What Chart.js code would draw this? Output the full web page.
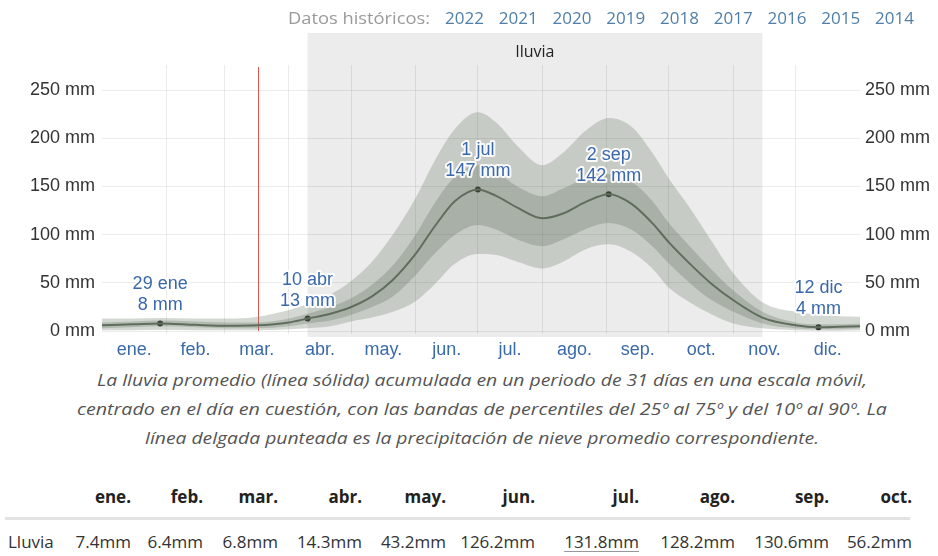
<!DOCTYPE html>
<html lang="es">
<head>
<meta charset="utf-8">
<title>Lluvia</title>
<script src="https://cdn.jsdelivr.net/npm/chart.js@4.4.1/dist/chart.umd.min.js"></script>
<style>
  html, body { margin: 0; padding: 0; background: #fff; }
  body { width: 938px; height: 556px; position: relative; overflow: hidden; font-family: "Open Sans", sans-serif; }
  #chart { position: absolute; left: 0; top: 0; }
  .t { position: absolute; white-space: nowrap; line-height: 1; }
  .hist { color: #9a9a9a; font-size: 17px; top: 9px; }
  .year { color: #4f7fa9; font-size: 17px; top: 9px; }
  .cap { color: #555; font-size: 17px; font-style: italic; }
  .th { font-weight: bold; font-size: 17px; color: #222; top: 488px; }
  .td { font-size: 17px; color: #333; top: 533px; }
  .sep { position: absolute; left: 5px; top: 517px; width: 905px; height: 3px; background: #e2e2e2; }
</style>
</head>
<body>
<canvas id="chart" width="938" height="365"></canvas>
<div id="texts"></div>

<script>
// months on the x axis (day of year where each month starts)
const monthLabels = ['ene.', 'feb.', 'mar.', 'abr.', 'may.', 'jun.', 'jul.', 'ago.', 'sep.', 'oct.', 'nov.', 'dic.'];
const monthStarts = [0, 31, 59, 90, 120, 151, 181, 212, 243, 273, 304, 334, 365];

// 31-day running rainfall (mm), read at these days of the year
const days     = [0, 15, 28, 45, 60, 75, 90, 99, 110, 120, 130, 140, 151, 160, 170, 181, 190, 200, 212, 222, 233, 244, 255, 265, 273, 283, 293, 304, 318, 334, 345, 355, 365];
const rainMean = [6, 7, 8, 6.5, 5.5, 6, 9, 13, 18, 25, 36, 53, 80, 108, 135, 147, 140, 128, 117, 122, 134, 142, 132, 112, 92, 70, 50, 32, 14, 6, 4, 4.5, 5];
const rainP10  = [1, 1, 1.5, 1, 1, 1, 2, 3, 5, 10, 14, 20, 31, 48, 70, 80, 79, 72, 65, 72, 85, 90, 82, 65, 45, 30, 18, 8, 3, 1, 0.5, 0.5, 1];
const rainP25  = [3, 4, 5, 4, 3, 3, 5, 8, 11, 17, 25, 36, 58, 80, 100, 110, 105, 95, 88, 95, 106, 112, 105, 88, 70, 50, 33, 20, 8, 3, 2, 2, 3];
const rainP75  = [9, 10, 11, 10, 9, 9, 13, 18, 25, 34, 48, 68, 100, 132, 160, 172, 165, 150, 140, 148, 158, 163, 155, 135, 112, 88, 65, 42, 20, 9, 7, 7, 8];
const rainP90  = [13, 13, 13.5, 13, 13, 15, 22, 28, 38, 52, 72, 100, 138, 176, 210, 227, 216, 192, 172, 185, 208, 221, 212, 185, 158, 128, 95, 60, 30, 20, 17, 15.5, 15];

// labelled points on the mean curve
const markDays   = [28, 99, 181, 244, 345];
const markNames  = ['29 ene', '10 abr', '1 jul', '2 sep', '12 dic'];
const markValues = [8, 13, 147, 142, 4];

// rainy season and current day
const seasonName = 'lluvia';
const seasonStart = 99;
const seasonEnd = 318;
const todayDay = 75;

const yTicks = [0, 50, 100, 150, 200, 250];

// header and monthly table
const histYears = ['2022', '2021', '2020', '2019', '2018', '2017', '2016', '2015', '2014'];
const tableMonths = ['ene.', 'feb.', 'mar.', 'abr.', 'may.', 'jun.', 'jul.', 'ago.', 'sep.', 'oct.'];
const tableRain = [7.4, 6.4, 6.8, 14.3, 43.2, 126.2, 131.8, 128.2, 130.6, 56.2];
const tableHighlight = 6;
const captionLines = [
  'La lluvia promedio (línea sólida) acumulada en un periodo de 31 días en una escala móvil,',
  'centrado en el día en cuestión, con las bandas de percentiles del 25º al 75º y del 10º al 90º. La',
  'línea delgada punteada es la precipitación de nieve promedio correspondiente.'
];

const labelFont = '"Liberation Sans", Arial, sans-serif';
const pts = arr => days.map((d, i) => ({ x: d, y: arr[i] }));

// grey block for the rainy season, its title and the red "today" line
const seasonPlugin = {
  id: 'season',
  beforeDraw(chart) {
    const { ctx, chartArea, scales: { x } } = chart;
    const x0 = x.getPixelForValue(seasonStart);
    const x1 = x.getPixelForValue(seasonEnd);
    ctx.save();
    ctx.fillStyle = '#ececec';
    ctx.fillRect(x0, 33, x1 - x0, chartArea.bottom + 3 - 33);
    ctx.fillStyle = '#222';
    ctx.font = '16px "Open Sans", sans-serif';
    ctx.textAlign = 'center';
    ctx.textBaseline = 'middle';
    ctx.fillText(seasonName, (x0 + x1) / 2, 52);
    ctx.restore();
  },
  beforeDatasetsDraw(chart) {
    const { ctx, chartArea, scales: { x } } = chart;
    const px = Math.round(x.getPixelForValue(todayDay)) + 0.5;
    ctx.save();
    ctx.strokeStyle = '#e0574f';
    ctx.lineWidth = 1;
    ctx.beginPath();
    ctx.moveTo(px, chartArea.top + 2);
    ctx.lineTo(px, chartArea.bottom - 3);
    ctx.stroke();
    ctx.restore();
  }
};

// two-line date / value labels above the marked points
const markPlugin = {
  id: 'markLabels',
  afterDatasetsDraw(chart) {
    const { ctx, scales: { x, y } } = chart;
    ctx.save();
    ctx.font = '18px ' + labelFont;
    ctx.textAlign = 'center';
    ctx.textBaseline = 'middle';
    ctx.lineJoin = 'round';
    markDays.forEach((d, i) => {
      const px = x.getPixelForValue(d);
      const py = y.getPixelForValue(markValues[i]);
      const lines = [markNames[i], markValues[i] + ' mm'];
      lines.forEach((s, j) => {
        const ty = py - 18 - (1 - j) * 21;
        ctx.strokeStyle = 'rgba(255,255,255,0.9)';
        ctx.lineWidth = 4;
        ctx.strokeText(s, px, ty);
        ctx.fillStyle = '#3a68aa';
        ctx.fillText(s, px, ty);
      });
    });
    ctx.restore();
  }
};

const band = { pointRadius: 0, borderWidth: 0, cubicInterpolationMode: 'monotone' };
const yTickOpts = pad => ({
  padding: pad, color: '#333', font: { size: 18, family: labelFont },
  callback: v => v + ' mm'
});

new Chart(document.getElementById('chart'), {
  type: 'line',
  data: {
    datasets: [
      { ...band, data: pts(rainP90), fill: 1, backgroundColor: 'rgba(110,125,105,0.30)' },
      { ...band, data: pts(rainP10), fill: false },
      { ...band, data: pts(rainP75), fill: 3, backgroundColor: 'rgba(90,100,85,0.28)' },
      { ...band, data: pts(rainP25), fill: false },
      {
        data: pts(rainMean), borderColor: '#5c6759', borderWidth: 2, pointRadius: 0,
        cubicInterpolationMode: 'monotone', fill: false
      },
      {
        data: markDays.map((d, i) => ({ x: d, y: markValues[i] })), showLine: false,
        pointRadius: 3, pointBackgroundColor: '#111', pointBorderWidth: 0
      }
    ]
  },
  options: {
    responsive: false,
    animation: false,
    layout: { padding: { top: 65, left: 0, right: 0, bottom: 0 } },
    plugins: { legend: { display: false }, tooltip: { enabled: false } },
    scales: {
      x: {
        type: 'linear', position: 'bottom', min: 0, max: 365,
        afterBuildTicks: s => { s.ticks = monthLabels.map((m, i) => ({ value: (monthStarts[i] + monthStarts[i + 1]) / 2 })); },
        grid: { display: false, drawTicks: false },
        border: { display: false },
        ticks: {
          padding: 5, color: '#3b6aa8', font: { size: 18, family: labelFont },
          maxRotation: 0, autoSkip: false, callback: (v, i) => monthLabels[i]
        },
        afterFit: s => { s.height = 31; }
      },
      xg: {
        type: 'linear', position: 'bottom', min: 0, max: 365,
        afterBuildTicks: s => { s.ticks = monthStarts.slice(1, -1).map(v => ({ value: v })); },
        grid: { color: 'rgba(0,0,0,0.08)', drawTicks: false },
        border: { display: false },
        ticks: { display: false },
        afterFit: s => { s.height = 0; }
      },
      y: {
        position: 'left', min: -3, max: 276,
        afterBuildTicks: s => { s.ticks = yTicks.map(v => ({ value: v })); },
        grid: { color: 'rgba(0,0,0,0.08)', drawTicks: false },
        border: { display: false },
        ticks: yTickOpts(7),
        afterFit: s => { s.width = 102; }
      },
      y2: {
        position: 'right', min: -3, max: 276,
        afterBuildTicks: s => { s.ticks = yTicks.map(v => ({ value: v })); },
        grid: { display: false, drawTicks: false },
        border: { display: false },
        ticks: yTickOpts(5),
        afterFit: s => { s.width = 78; }
      }
    }
  },
  plugins: [seasonPlugin, markPlugin]
});

// text around the chart
const texts = document.getElementById('texts');
function addText(cls, str, left, top, align) {
  const el = document.createElement('div');
  el.className = 't ' + cls;
  el.textContent = str;
  el.style.left = left + 'px';
  if (top != null) el.style.top = top + 'px';
  if (align === 'r') el.style.transform = 'translateX(-100%)';
  texts.appendChild(el);
  return el;
}

const histEl = addText('hist', 'Datos históricos:', 288);
histYears.forEach((y, i) => addText('year', y, 445 + i * 53.75));

const capCenter = 482;
const capWidths = [770, 810, 674];
const capTops = [371, 400, 429];
const capEls = captionLines.map((s, i) => addText('cap', s, capCenter, capTops[i]));

const colRight = [131, 203, 278, 362, 446, 535, 639, 735, 829, 912];
tableMonths.forEach((m, i) => addText('th', m, colRight[i], null, 'r'));
const sep = document.createElement('div');
sep.className = 'sep';
texts.appendChild(sep);
addText('td', 'Lluvia', 8);
tableRain.forEach((v, i) => {
  const el = addText('td', v.toFixed(1) + 'mm', colRight[i], null, 'r');
  if (i === tableHighlight) {
    el.style.textDecoration = 'underline';
    el.style.textDecorationColor = '#999';
    el.style.textUnderlineOffset = '3px';
  }
});

// squeeze text runs to the width they take in the layout
function squeeze(el, width, left) {
  const w = el.getBoundingClientRect().width;
  el.style.transformOrigin = 'left center';
  el.style.left = left + 'px';
  el.style.transform = 'scaleX(' + (width / w) + ')';
}
document.fonts.ready.then(() => {
  capEls.forEach((el, i) => squeeze(el, capWidths[i], capCenter - capWidths[i] / 2));
  squeeze(histEl, 142, 288);
});
</script>
</body>
</html>
